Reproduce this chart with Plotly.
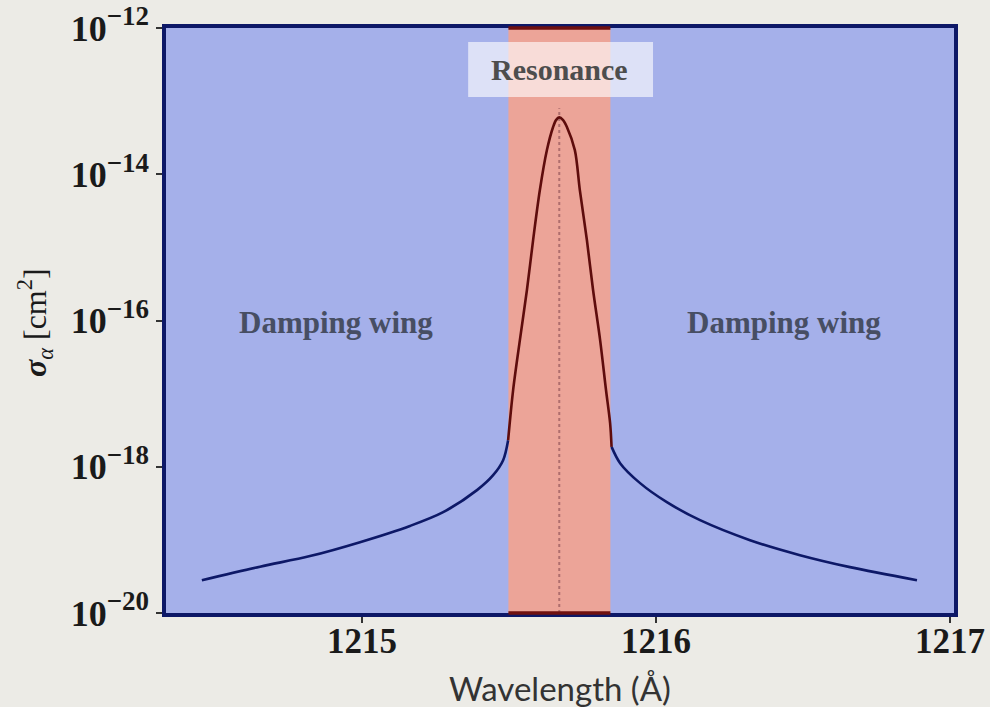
import plotly.graph_objects as go

# Lyman-alpha cross-section
wavelength = [1214.455, 1214.653, 1214.823, 1214.993, 1215.163, 1215.276, 1215.391,
              1215.446, 1215.480, 1215.497, 1215.514, 1215.537, 1215.561, 1215.582,
              1215.605, 1215.629, 1215.650, 1215.660, 1215.671, 1215.684, 1215.697,
              1215.724, 1215.741, 1215.765, 1215.786, 1215.810, 1215.830, 1215.844,
              1215.849, 1215.878, 1215.946, 1216.037, 1216.150, 1216.320, 1216.490,
              1216.660, 1216.888]
sigma = [2.81e-20, 4.30e-20, 6.00e-20, 9.30e-20, 1.55e-19, 2.39e-19, 4.79e-19,
         7.67e-19, 1.23e-18, 2.31e-18, 1.12e-17, 5.40e-17, 2.61e-16, 1.26e-15,
         6.08e-15, 2.14e-14, 4.43e-14, 5.50e-14, 6.00e-14, 5.50e-14, 4.43e-14,
         2.14e-14, 6.08e-15, 1.26e-15, 2.61e-16, 5.40e-17, 1.12e-17, 3.94e-18,
         1.87e-18, 1.12e-18, 5.97e-19, 3.28e-19, 1.86e-19, 9.91e-20, 6.18e-20,
         4.24e-20, 2.81e-20]

band_range = [1215.498, 1215.845]
line_center = 1215.671
x_ticks = [1215, 1216, 1217]
y_tick_vals = [1e-20, 1e-18, 1e-16, 1e-14, 1e-12]
y_tick_exps = ["−20", "−18", "−16", "−14", "−12"]

NAVY = "#0d1867"
MAROON = "#5e0c0c"
BLUE_BG = "rgb(165,176,234)"
RED_BAND = "rgb(236,164,152)"
PAPER = "#ecebe6"

fig = go.Figure()

edge_left, edge_right = 1215.497, 1215.849
segments = [
    ([w for w in wavelength if w <= edge_left], NAVY),
    ([w for w in wavelength if w >= edge_right], NAVY),
    ([w for w in wavelength if edge_left <= w <= edge_right], MAROON),
]
lookup = dict(zip(wavelength, sigma))
for xs, col in segments:
    fig.add_trace(go.Scatter(x=xs, y=[lookup[w] for w in xs], mode="lines",
                             line=dict(color=col, width=2.6, shape="spline", smoothing=0.9),
                             showlegend=False, hoverinfo="skip"))

shapes = [
    dict(type="rect", xref="x", yref="paper", x0=band_range[0], x1=band_range[1],
         y0=0, y1=1, fillcolor=RED_BAND, line=dict(width=0), layer="below"),
    dict(type="line", xref="x", yref="paper", x0=line_center, x1=line_center,
         y0=0, y1=0.863, line=dict(color="rgb(175,110,110)", width=2, dash="dot"),
         layer="below"),
    dict(type="rect", xref="x", yref="paper", x0=1215.361, x1=1215.990,
         y0=0.882, y1=0.976, fillcolor="rgba(255,255,255,0.62)", line=dict(width=0),
         layer="above"),
    dict(type="line", xref="x", yref="paper", x0=band_range[0], x1=band_range[1],
         y0=1, y1=1, line=dict(color="#6e1010", width=3.5), layer="above"),
    dict(type="line", xref="x", yref="paper", x0=band_range[0], x1=band_range[1],
         y0=0, y1=0, line=dict(color="#6e1010", width=3.5), layer="above"),
]

annotations = [
    dict(text="<b>Resonance</b>", xref="x", yref="paper", x=line_center, y=0.929,
         xanchor="center", yanchor="middle", showarrow=False,
         font=dict(family="Liberation Serif", size=30, color="#4d4d4d")),
    dict(text="<b>Damping wing</b>", xref="x", yref="paper", x=1214.912, y=0.496,
         xanchor="center", yanchor="middle", showarrow=False,
         font=dict(family="Liberation Serif", size=31, color="#474e63")),
    dict(text="<b>Damping wing</b>", xref="x", yref="paper", x=1216.435, y=0.496,
         xanchor="center", yanchor="middle", showarrow=False,
         font=dict(family="Liberation Serif", size=31, color="#474e63")),
    dict(text="<b><i>σ</i></b><sub><i>α</i></sub> [cm<sup>2</sup>]", xref="paper",
         yref="paper", x=-0.166, y=0.496, xanchor="center", yanchor="middle",
         textangle=-90, showarrow=False,
         font=dict(family="Liberation Serif", size=32, color="#1a1a1a")),
    dict(text="Wavelength (Å)", xref="paper", yref="paper", x=0.5, y=-0.128,
         xanchor="center", yanchor="middle", showarrow=False,
         font=dict(family="Lato", size=33, color="#333")),
]

fig.update_layout(
    width=990, height=707,
    margin=dict(l=166, r=36, t=28, b=94, autoexpand=False),
    paper_bgcolor=PAPER, plot_bgcolor=BLUE_BG,
    shapes=shapes, annotations=annotations,
    xaxis=dict(range=[1214.333, 1217.014], tickvals=x_ticks,
               ticktext=[f"<b>{v}</b>" for v in x_ticks],
               tickfont=dict(family="Liberation Serif", size=35, color="#1a1a1a"),
               ticks="outside", ticklen=6, tickwidth=1.5, tickcolor="#333",
               ticklabelstandoff=-12, automargin=False,
               showgrid=False, zeroline=False, showline=True, linecolor=NAVY,
               linewidth=3.5, mirror=True),
    yaxis=dict(type="log", range=[-20, -12], tickvals=y_tick_vals,
               ticktext=[f'<b>10<sup><span style="font-size:27px">{e}</span></sup></b>'
                         for e in y_tick_exps],
               tickfont=dict(family="Liberation Serif", size=36, color="#1a1a1a"),
               ticks="outside", ticklen=6, tickwidth=1.5, tickcolor="#333",
               automargin=False,
               showgrid=False, zeroline=False, showline=True, linecolor=NAVY,
               linewidth=3.5, mirror=True),
)

fig.write_html("out.html")
